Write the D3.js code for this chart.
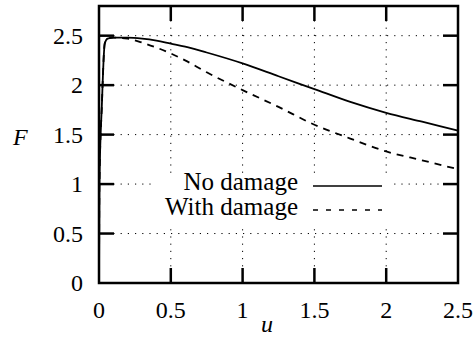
<!DOCTYPE html>
<html>
<head>
<meta charset="utf-8">
<script src="https://cdn.jsdelivr.net/npm/d3@7"></script>
<style>
    svg text { font-family: 'Times New Roman', Tinos, 'Liberation Serif' !important; }
</style>
</head>
<body style="margin:0">
<script>
// displacement u
let uValues = [0, 0.003, 0.02, 0.04, 0.06, 0.1, 0.2, 0.3, 0.4, 0.5, 0.6, 0.75, 1.0, 1.25, 1.5, 1.75, 2.0, 2.25, 2.5];
// force F, no damage
let noDamage = [0, 1.0, 1.8, 2.42, 2.47, 2.48, 2.48, 2.47, 2.45, 2.42, 2.39, 2.33, 2.22, 2.09, 1.96, 1.83, 1.72, 1.63, 1.54];
// force F, with damage
let withDamage = [0, 1.0, 1.8, 2.42, 2.47, 2.48, 2.47, 2.43, 2.38, 2.32, 2.25, 2.13, 1.95, 1.78, 1.60, 1.46, 1.33, 1.24, 1.15];

let xTicks = [0, 0.5, 1, 1.5, 2, 2.5];
let yTicks = [0, 0.5, 1, 1.5, 2, 2.5];

let seriesNames = ["No damage", "With damage"];

let margin = {top: 6, right: 15, bottom: 63, left: 99};
let width = 473 - margin.left - margin.right;
let height = 346 - margin.top - margin.bottom;
let tickLen = 15;

let svg = d3.select("body").append("svg")
    .attr("width", 473)
    .attr("height", 346);

let x = d3.scaleLinear().domain([0, 2.5]).range([margin.left, margin.left + width]);
let y = d3.scaleLinear().domain([0, 2.8]).range([margin.top + height, margin.top]);

// dotted grid
svg.selectAll(".gx")
    .data(xTicks.slice(1, -1))
    .join("line")
    .attr("class", "gx")
    .attr("x1", d => x(d)).attr("x2", d => x(d))
    .attr("y1", margin.top).attr("y2", margin.top + height)
    .attr("stroke", "#000")
    .attr("stroke-dasharray", "1.2,6");

svg.selectAll(".gy")
    .data(yTicks.slice(1))
    .join("line")
    .attr("class", "gy")
    .attr("y1", d => y(d)).attr("y2", d => y(d))
    .attr("x1", margin.left).attr("x2", margin.left + width)
    .attr("stroke", "#000")
    .attr("stroke-dasharray", "1.2,6");

// curves
let line = d3.line()
    .x((d, i) => x(uValues[i]))
    .y(d => y(d))
    .curve(d3.curveMonotoneX);

svg.append("path")
    .attr("d", line(noDamage))
    .attr("fill", "none")
    .attr("stroke", "#000")
    .attr("stroke-width", 1.8);

svg.append("path")
    .attr("d", line(withDamage))
    .attr("fill", "none")
    .attr("stroke", "#000")
    .attr("stroke-width", 1.8)
    .attr("stroke-dasharray", "7,6");

// legend box covers the grid
svg.append("rect")
    .attr("x", margin.left + 52).attr("y", margin.top + 167)
    .attr("width", 242).attr("height", 55)
    .attr("fill", "white");

svg.selectAll(".legline")
    .data(seriesNames)
    .join("line")
    .attr("class", "legline")
    .attr("x1", margin.left + 214).attr("x2", margin.left + 283)
    .attr("y1", (d, i) => margin.top + 180 + i * 24)
    .attr("y2", (d, i) => margin.top + 180 + i * 24)
    .attr("stroke", "#000")
    .attr("stroke-width", 1.6)
    .attr("stroke-dasharray", (d, i) => i ? "5,8" : null);

// frame
svg.append("rect")
    .attr("x", margin.left).attr("y", margin.top)
    .attr("width", width).attr("height", height)
    .attr("fill", "none")
    .attr("stroke", "#000")
    .attr("stroke-width", 2.5);

// inward ticks on all four sides
let tickLines = [];
xTicks.slice(1, -1).forEach(d => {
    tickLines.push([x(d), y(0), x(d), y(0) - tickLen]);
    tickLines.push([x(d), margin.top, x(d), margin.top + tickLen]);
});
yTicks.slice(1).forEach(d => {
    tickLines.push([x(0), y(d), x(0) + tickLen, y(d)]);
    tickLines.push([x(2.5), y(d), x(2.5) - tickLen, y(d)]);
});
svg.selectAll(".tick")
    .data(tickLines)
    .join("line")
    .attr("class", "tick")
    .attr("x1", d => d[0]).attr("y1", d => d[1])
    .attr("x2", d => d[2]).attr("y2", d => d[3])
    .attr("stroke", "#000")
    .attr("stroke-width", 2.5);

// all texts in one list
let texts = [];
seriesNames.forEach((d, i) => texts.push({t: d, x: margin.left + 199, y: margin.top + 184 + i * 25, a: "end", s: 25}));
xTicks.forEach(d => texts.push({t: String(d), x: x(d), y: y(0) + 35, a: "middle", s: 24}));
yTicks.forEach(d => texts.push({t: String(d), x: margin.left - 16, y: y(d) + 8, a: "end", s: 24}));
texts.push({t: "F", x: margin.left - 86, y: y(1.5) + 10, a: "start", s: 24, i: true});
texts.push({t: "u", x: x(1.17), y: y(0) + 49, a: "middle", s: 24, i: true});

svg.selectAll("text")
    .data(texts)
    .join("text")
    .attr("x", d => d.x)
    .attr("y", d => d.y)
    .attr("text-anchor", d => d.a)
    .attr("font-size", d => d.s)
    .attr("font-style", d => d.i ? "italic" : null)
    .style("font-family", "'Times New Roman', Tinos, 'Liberation Serif'", "important")
    .text(d => d.t);
</script>
</body>
</html>
